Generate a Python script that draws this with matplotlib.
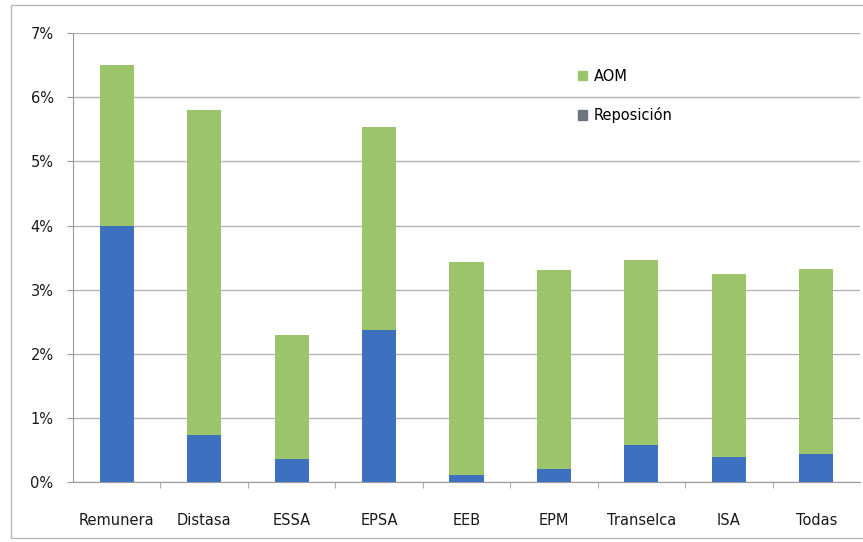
import matplotlib.pyplot as plt
import numpy as np
from matplotlib.patches import Patch, Rectangle
from matplotlib.ticker import FuncFormatter, MultipleLocator

categories = ["Remunera", "Distasa", "ESSA", "EPSA", "EEB", "EPM",
              "Transelca", "ISA", "Todas"]
reposicion = [4.00, 0.73, 0.36, 2.37, 0.11, 0.20, 0.58, 0.39, 0.44]
totals = [6.51, 5.81, 2.30, 5.53, 3.43, 3.30, 3.46, 3.24, 3.33]
aom = [t - r for t, r in zip(totals, reposicion)]

BLUE = "#3d70bf"
GREEN = "#9bc46b"

fig = plt.figure(figsize=(8.63, 5.42), dpi=100)
# outer chart border
fig.patches.append(Rectangle((0.013, 0.008), 0.99, 0.983, transform=fig.transFigure,
                             fill=False, edgecolor="#b8b8b8", linewidth=1.0))
ax = fig.add_axes([0.0846, 0.1107, 0.912, 0.828])

x = np.arange(len(categories))
ax.bar(x, reposicion, width=0.39, color=BLUE, zorder=3)
ax.bar(x, aom, width=0.39, bottom=reposicion, color=GREEN, zorder=3)

ax.set_xlim(-0.5, 8.5)
ax.set_ylim(0, 7)
ax.yaxis.set_major_locator(MultipleLocator(1))
ax.yaxis.set_major_formatter(FuncFormatter(lambda v, _: f"{v:.0f}%"))
ax.grid(axis="y", color="#b4b4b4", linewidth=1.0, zorder=0)

ax.set_xticks(x)
ax.set_xticklabels(categories)
ax.set_xticks(np.arange(0.5, 8.5, 1), minor=True)
ax.tick_params(axis="x", which="major", length=0, pad=22, labelsize=10.5,
               labelcolor="#1a1a1a")
ax.tick_params(axis="x", which="minor", length=4, color="#999999", direction="out")
ax.tick_params(axis="y", length=4, color="#999999", pad=10, labelsize=10.5,
               labelcolor="#1a1a1a")

for side in ["top", "right"]:
    ax.spines[side].set_visible(False)
ax.spines["left"].set_color("#999999")
ax.spines["bottom"].set_color("#999999")

handles = [Patch(color=GREEN, label="AOM"), Patch(color="#6f7580", label="Reposición")]
ax.legend(handles=handles, loc="upper left", bbox_to_anchor=(0.625, 0.95),
          frameon=False, fontsize=10.5, handlelength=0.6, handleheight=0.6,
          labelspacing=1.6, handletextpad=0.5)

fig.savefig("out.png", dpi=100)
